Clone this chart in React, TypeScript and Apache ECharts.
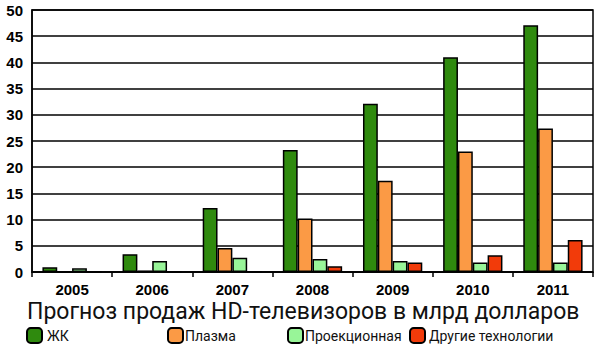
import React, { useEffect, useRef } from "react";
import * as echarts from "echarts";

const years = ["2005", "2006", "2007", "2008", "2009", "2010", "2011"];
const lcd = [0.9, 3.4, 12.2, 23.3, 32.1, 41.0, 47.1];
const plasma = [0, 0.3, 4.6, 10.2, 17.4, 23.0, 27.4];
const projection = [0.7, 2.1, 2.7, 2.5, 2.1, 1.8, 1.8];
const other = [0, 0, 0.1, 1.1, 1.8, 3.2, 6.1];
const seriesNames = ["ЖК", "Плазма", "Проекционная", "Другие технологии"];
const colors = ["#2f8a0e", "#fb9a45", "#98f598", "#f23b0a"];
const title = "Прогноз продаж HD-телевизоров в млрд долларов";

export default function App() {
  const ref = useRef<HTMLDivElement>(null);
  useEffect(() => {
    if (!ref.current) return;
    const chart = echarts.init(ref.current, null, { renderer: "svg" });
    const data = [lcd, plasma, projection, other];
    const legendLefts = [26, 167, 287, 409];
    const legendTextShift = [0, -3, -3, -1];
    chart.setOption({
      animation: false,
      backgroundColor: "#fff",
      title: {
        text: title,
        left: 27,
        top: 299,
        padding: 0,
        textStyle: { fontFamily: "Roboto", fontWeight: "normal", fontSize: 23, lineHeight: 24, color: "#111" },
      },
      legend: seriesNames.map((n, i) => ({
        data: [n],
        left: legendLefts[i],
        top: 327,
        itemWidth: 15,
        itemHeight: 15,
        itemGap: 2,
        textStyle: { fontFamily: "Roboto", fontSize: 14, color: "#111", padding: [0, 0, 0, legendTextShift[i]] },
        padding: 0,
      })),
      grid: { left: 32, right: 7, top: 10, bottom: 86, show: true, borderColor: "#000", borderWidth: 1.5, backgroundColor: "transparent" },
      xAxis: {
        type: "category",
        data: years,
        axisLine: { lineStyle: { color: "#000", width: 1.5 } },
        axisTick: { show: true, lineStyle: { color: "#000", width: 1.5 }, length: 5 },
        axisLabel: { fontFamily: "Liberation Sans", fontWeight: "bold", fontSize: 15, lineHeight: 15, color: "#000", margin: 10 },
      },
      yAxis: {
        type: "value",
        min: 0,
        max: 50,
        interval: 5,
        axisLine: { show: true, lineStyle: { color: "#000", width: 1.5 } },
        axisTick: { show: false },
        splitLine: { lineStyle: { color: "#000", width: 1.5 } },
        axisLabel: { fontFamily: "Liberation Sans", fontWeight: "bold", fontSize: 15, color: "#000", margin: 9 },
      },
      series: seriesNames.map((n, i) => ({
        name: n,
        type: "bar",
        data: data[i],
        barGap: "0%",
        barCategoryGap: "26%",
        itemStyle: { color: colors[i], borderColor: "#000", borderWidth: 1.5 },
      })),
    });
    return () => chart.dispose();
  }, []);
  return <div ref={ref} style={{ width: 600, height: 358, position: "absolute", left: 0, top: 0 }} />;
}
